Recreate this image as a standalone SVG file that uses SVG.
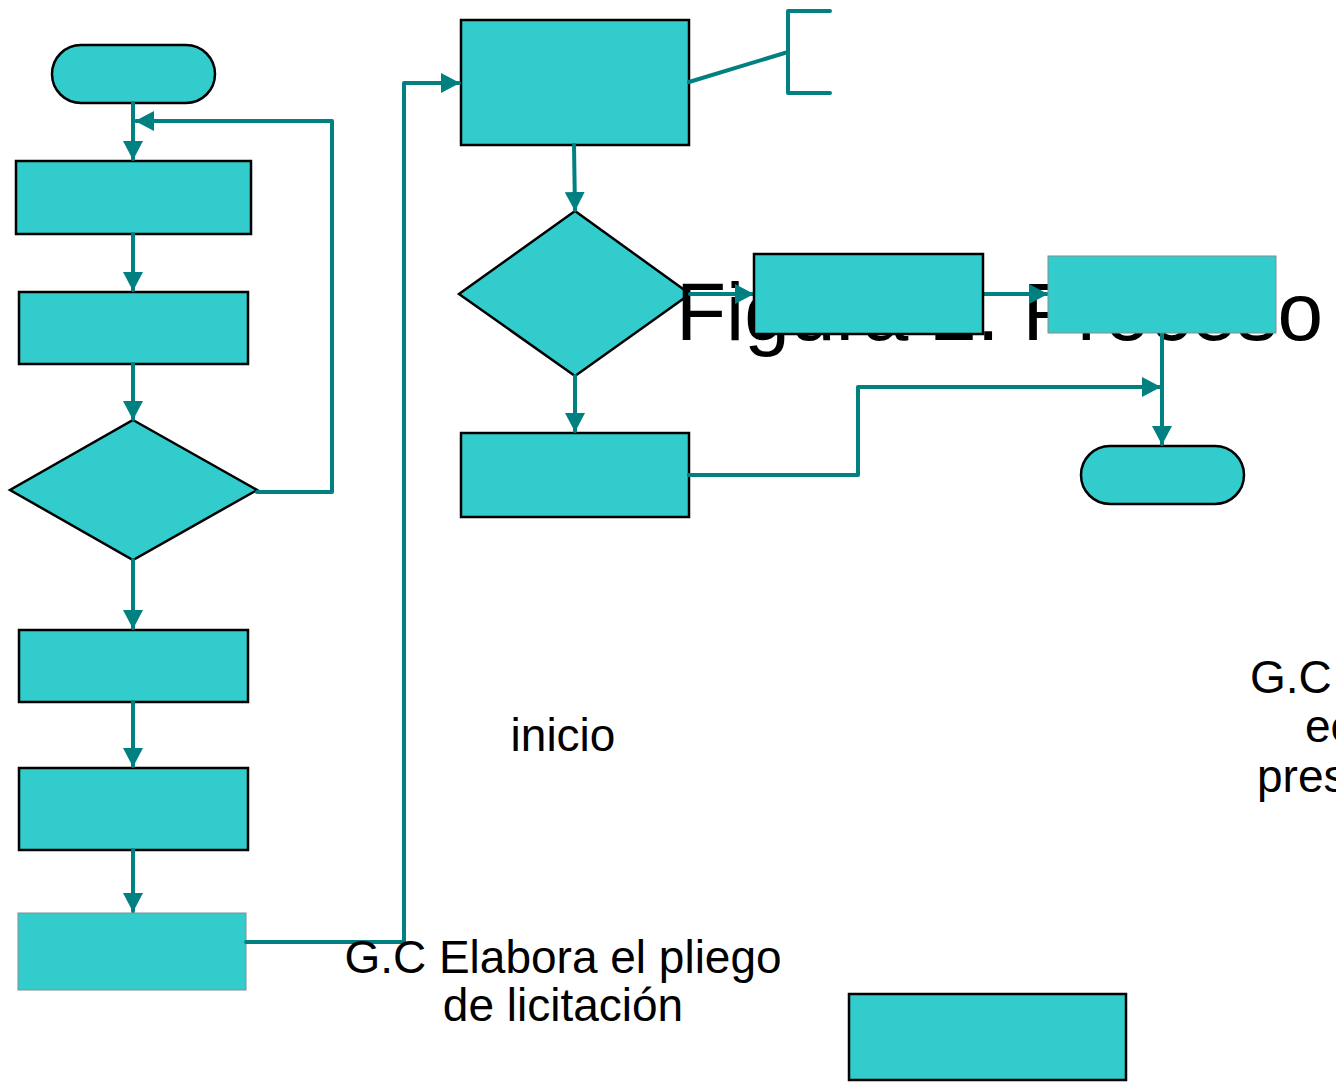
<svg xmlns="http://www.w3.org/2000/svg" width="1336" height="1083" viewBox="0 0 1336 1083">
<defs>
<style>
.n{fill:#33CCCC;stroke:#000;stroke-width:2.5}
.g{fill:#33CCCC;stroke:#7f8f8f;stroke-width:1}
.c{fill:none;stroke:#008080;stroke-width:4;stroke-linejoin:round;stroke-linecap:round}
.t{font-family:"Liberation Sans",Arial,sans-serif;fill:#000}
</style>
<marker id="ah" markerUnits="userSpaceOnUse" markerWidth="19" markerHeight="20" refX="18" refY="10" orient="auto">
<path d="M0,0 L19,10 L0,20 Z" fill="#008080"/>
</marker>
</defs>
<rect width="1336" height="1083" fill="#fff"/>
<g id="start"><rect class="n" x="52" y="45" width="163" height="58" rx="29"/></g>
<g id="box1"><rect class="n" x="16" y="161" width="235" height="73"/></g>
<g id="box2"><rect class="n" x="19" y="292" width="229" height="72"/></g>
<g id="dec1"><polygon class="n" points="133,420 257,490 133,560 10,490"/></g>
<g id="box3"><rect class="n" x="19" y="630" width="229" height="72"/></g>
<g id="box4"><rect class="n" x="19" y="768" width="229" height="82"/></g>
<g id="box5"><rect class="g" x="18" y="913" width="228" height="77"/></g>
<g id="boxTop"><rect class="n" x="461" y="20" width="228" height="125"/></g>
<g id="dec2"><polygon class="n" points="575,211 690,294 575,376 459,294"/></g>
<g id="boxMid"><rect class="n" x="461" y="433" width="228" height="84"/></g>
<g id="end"><rect class="n" x="1081" y="446" width="163" height="58" rx="29"/></g>
<g id="boxBottom"><rect class="n" x="849" y="994" width="277" height="86"/></g>
<text class="t" x="676" y="340" font-size="82">Figura 2. Proceso</text>
<g id="connectors">
<path class="c" d="M133,103 L133,159" marker-end="url(#ah)"/>
<path class="c" d="M257,492 L332,492 L332,121 L136,121" marker-end="url(#ah)"/>
<path class="c" d="M133,234 L133,290" marker-end="url(#ah)"/>
<path class="c" d="M133,364 L133,419" marker-end="url(#ah)"/>
<path class="c" d="M133,560 L133,628" marker-end="url(#ah)"/>
<path class="c" d="M133,702 L133,766" marker-end="url(#ah)"/>
<path class="c" d="M133,850 L133,911" marker-end="url(#ah)"/>
<path class="c" d="M246,942 L404,942 L404,83 L459,83" marker-end="url(#ah)"/>
<path class="c" d="M689,82 L788,52"/>
<path class="c" d="M830,11 L788,11 L788,93 L830,93"/>
<path class="c" d="M574,145 L575,210" marker-end="url(#ah)"/>
<path class="c" d="M690,294 L753,294" marker-end="url(#ah)"/>
<path class="c" d="M983,294 L1047,294" marker-end="url(#ah)"/>
<path class="c" d="M1162,333 L1162,444" marker-end="url(#ah)"/>
<path class="c" d="M575,376 L575,431" marker-end="url(#ah)"/>
<path class="c" d="M689,475 L858,475 L858,387 L1160,387" marker-end="url(#ah)"/>
</g>
<g id="boxA"><rect class="n" x="754" y="254" width="229" height="80"/></g>
<g id="boxB"><rect class="g" x="1048" y="256" width="228" height="77"/></g>
<text class="t" x="563" y="751" font-size="46" text-anchor="middle">inicio</text>
<text class="t" x="563" y="973" font-size="46" text-anchor="middle">G.C Elabora el pliego</text>
<text class="t" x="563" y="1021" font-size="46" text-anchor="middle">de licitación</text>
<text class="t" x="1250" y="693" font-size="46">G.C</text>
<text class="t" x="1305" y="742" font-size="46">ec</text>
<text class="t" x="1257" y="792" font-size="46">pres</text>
</svg>
